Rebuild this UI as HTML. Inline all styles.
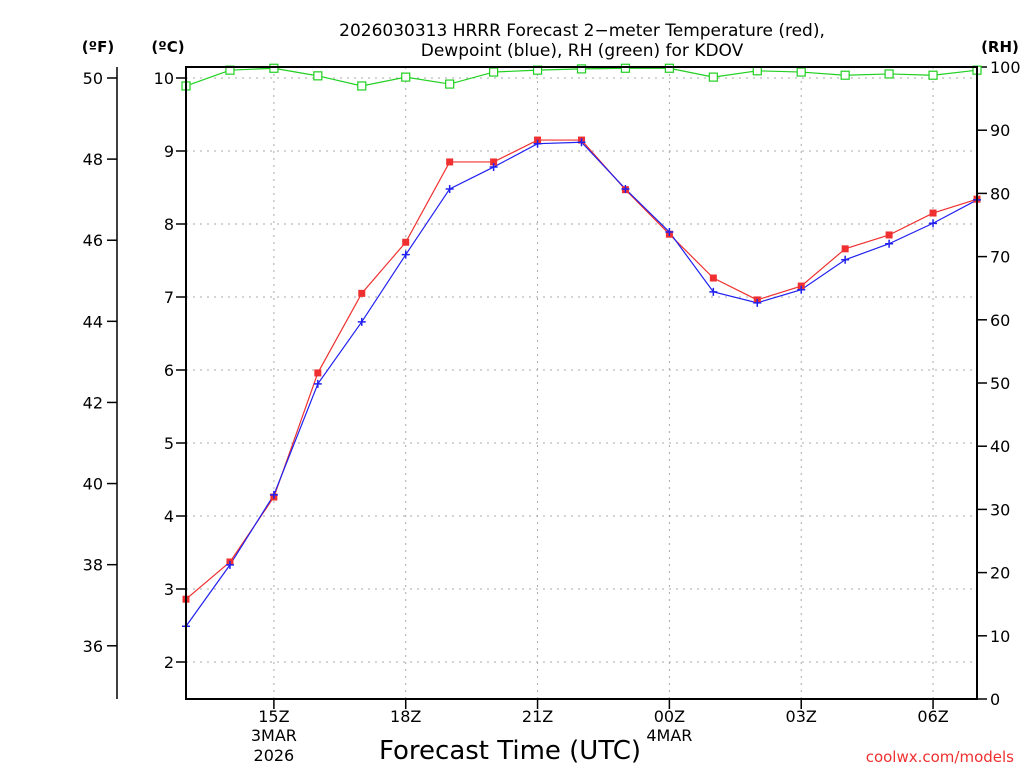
<!DOCTYPE html>
<html><head><meta charset="utf-8"><style>
body{margin:0;background:#fff}
svg{display:block;font-family:"DejaVu Sans","Liberation Sans",sans-serif}
</style></head><body>
<svg id="c" width="1024" height="768">
<text x="582" y="36" font-size="17" text-anchor="middle">2026030313 HRRR Forecast 2−meter Temperature (red),</text>
<text x="582" y="56" font-size="17" text-anchor="middle">Dewpoint (blue), RH (green) for KDOV</text>
<text x="98" y="52" font-size="15" font-weight="bold" text-anchor="middle">(ºF)</text>
<text x="168" y="52" font-size="15" font-weight="bold" text-anchor="middle">(ºC)</text>
<text x="1000" y="52" font-size="15" font-weight="bold" text-anchor="middle">(RH)</text>
<text x="510" y="759" font-size="26" text-anchor="middle">Forecast Time (UTC)</text>
<text x="1014" y="762" font-size="15" fill="#f03030" text-anchor="end">coolwx.com/models</text>
<g id="grid"></g><g id="axes"></g><g id="series"></g>
<rect x="186" y="67" width="791" height="632" fill="none" stroke="#000" stroke-width="2"/>
</svg>
<script>
const hours=[13,14,15,16,17,18,19,20,21,22,23,24,25,26,27,28,29,30,31];
const tempC=[2.86,3.37,4.26,5.96,7.05,7.75,8.85,8.85,9.15,9.15,8.47,7.86,7.26,6.96,7.15,7.66,7.85,8.15,8.34];
const dewC=[2.49,3.33,4.29,5.81,6.66,7.58,8.48,8.78,9.10,9.12,8.48,7.89,7.07,6.92,7.10,7.51,7.73,8.01,8.33];
const rh=[97.0,99.5,99.8,98.6,97.0,98.4,97.3,99.2,99.5,99.7,99.8,99.8,98.4,99.4,99.2,98.7,98.9,98.7,99.5];
const cTicks=[2,3,4,5,6,7,8,9,10];
const fTicks=[36,38,40,42,44,46,48,50];
const rhTicks=[0,10,20,30,40,50,60,70,80,90,100];
const xTicks=[15,18,21,24,27,30];
const xLabels=["15Z","18Z","21Z","00Z","03Z","06Z"];
const NS="http://www.w3.org/2000/svg";
const X=h=>186+(h-13)*(791/18);
const YC=c=>78+(10-c)*73;
const YF=f=>YC((f-32)/1.8);
const YR=r=>699-r*6.32;
function el(p,t,a){const e=document.createElementNS(NS,t);for(const k in a)e.setAttribute(k,a[k]);p.appendChild(e);return e;}
const g=document.getElementById('grid'),ax=document.getElementById('axes'),s=document.getElementById('series');
cTicks.forEach(c=>{const y=YC(c);
 const l=el(g,'line',{x1:186,x2:977,y1:y,y2:y,stroke:'#aaa','stroke-dasharray':'2,5'});
 
 el(ax,'line',{x1:176,x2:186,y1:y,y2:y,stroke:'#000','stroke-width':1.5});
 const t=el(ax,'text',{x:174,y:y+6,'font-size':16,'text-anchor':'end'});t.textContent=c;
 });
el(ax,'line',{x1:117,x2:117,y1:67,y2:699,stroke:'#000','stroke-width':1.5});
fTicks.forEach(f=>{const y=YF(f);
 el(ax,'line',{x1:107,x2:117,y1:y,y2:y,stroke:'#000','stroke-width':1.5});
 const t=el(ax,'text',{x:103,y:y+6,'font-size':16,'text-anchor':'end'});t.textContent=f;
 });
rhTicks.forEach(r=>{const y=YR(r);
 el(ax,'line',{x1:977,x2:987,y1:y,y2:y,stroke:'#000','stroke-width':1.5});
 const t=el(ax,'text',{x:990,y:y+6,'font-size':16});t.textContent=r;
 });
xTicks.forEach((h,i)=>{const x=X(h);
 const l=el(g,'line',{x1:x,x2:x,y1:67,y2:699,stroke:'#aaa','stroke-dasharray':'2,5'});
 
 el(ax,'line',{x1:x,x2:x,y1:699,y2:709,stroke:'#000','stroke-width':1.5});
 const t=el(ax,'text',{x:x,y:722,'font-size':16,'text-anchor':'middle'});t.textContent=xLabels[i];
 });
[[15,"3MAR",741],[15,"2026",761],[24,"4MAR",741]].forEach(d=>{const t=el(ax,'text',{x:X(d[0]),y:d[2],'font-size':16,'text-anchor':'middle'});t.textContent=d[1];
 });
function line(vals,yf,col,name){const pts=vals.map((v,i)=>X(hours[i])+','+yf(v)).join(' ');
 const p=el(s,'polyline',{points:pts,fill:'none',stroke:col,'stroke-width':1.2});
 }
line(rh,YR,'#20d020','rh-line');
line(tempC,YC,'#f03030','temperature-line');
line(dewC,YC,'#2020f0','dewpoint-line');
rh.forEach((v,i)=>{const r=el(s,'rect',{x:X(hours[i])-4,y:YR(v)-4,width:8,height:8,fill:'#fff',stroke:'#20d020','stroke-width':1.2});
 });
tempC.forEach((v,i)=>{const r=el(s,'rect',{x:X(hours[i])-3.5,y:YC(v)-3.5,width:7,height:7,fill:'#f03030'});
 });
dewC.forEach((v,i)=>{const x=X(hours[i]),y=YC(v);
 const p=el(s,'path',{d:`M${x-4},${y}H${x+4}M${x},${y-4}V${y+4}`,stroke:'#2020f0','stroke-width':1.5});
 });
</script>
</body></html>
